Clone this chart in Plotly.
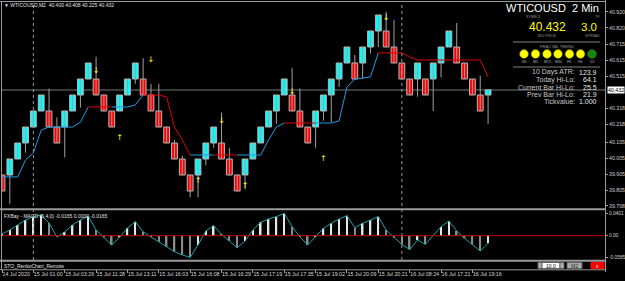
import plotly.graph_objects as go

# ---------------- data ----------------
brick_open = [39.9, 39.9, 40.0, 40.1, 40.2, 40.3, 40.3, 40.2, 40.2, 40.3,
              40.4, 40.5, 40.5, 40.4, 40.3, 40.3, 40.4, 40.5, 40.5, 40.4,
              40.3, 40.2, 40.1, 40.0, 39.9, 39.9, 40.0, 40.1, 40.1, 40.0,
              39.9, 39.9, 40.0, 40.1, 40.2, 40.3, 40.4, 40.4, 40.3, 40.2,
              40.2, 40.3, 40.4, 40.5, 40.6, 40.6, 40.6, 40.7, 40.8, 40.8,
              40.7, 40.6, 40.5, 40.5, 40.5, 40.5, 40.6, 40.7, 40.7, 40.6,
              40.5, 40.4, 40.4]
brick_close = [39.8, 40.0, 40.1, 40.2, 40.3, 40.4, 40.2, 40.1, 40.3, 40.4,
               40.5, 40.6, 40.4, 40.3, 40.2, 40.4, 40.5, 40.6, 40.4, 40.3,
               40.2, 40.1, 40.0, 39.9, 39.8, 40.0, 40.1, 40.2, 40.0, 39.9,
               39.8, 40.0, 40.1, 40.2, 40.3, 40.4, 40.5, 40.3, 40.2, 40.1,
               40.3, 40.4, 40.5, 40.6, 40.7, 40.5, 40.7, 40.8, 40.9, 40.7,
               40.6, 40.5, 40.4, 40.6, 40.4, 40.6, 40.7, 40.8, 40.6, 40.5,
               40.4, 40.3, 40.432]
brick_high = [39.9, 40.0, 40.1, 40.2, 40.3, 40.4, 40.44, 40.26, 40.3, 40.4,
              40.5, 40.6, 40.64, 40.4, 40.3, 40.4, 40.5, 40.6, 40.63, 40.47,
              40.47, 40.2, 40.12, 40.02, 39.9, 40.0, 40.1, 40.2, 40.29, 40.07,
              39.9, 40.0, 40.1, 40.2, 40.3, 40.4, 40.5, 40.57, 40.44, 40.2,
              40.3, 40.4, 40.5, 40.6, 40.7, 40.65, 40.7, 40.8, 40.9, 40.92,
              40.87, 40.6, 40.5, 40.6, 40.5, 40.6, 40.7, 40.8, 40.85, 40.6,
              40.5, 40.52, 40.432]
brick_low = [39.8, 39.72, 40.0, 40.04, 40.2, 40.3, 40.2, 40.1, 40.01, 40.3,
             40.32, 40.5, 40.4, 40.3, 40.2, 40.3, 40.4, 40.47, 40.4, 40.3,
             40.2, 40.1, 40.0, 39.9, 39.76, 39.76, 39.96, 40.07, 40.0, 39.9,
             39.8, 39.81, 40.0, 40.1, 40.2, 40.22, 40.4, 40.3, 40.2, 40.1,
             40.07, 40.24, 40.23, 40.45, 40.6, 40.5, 40.5, 40.66, 40.7, 40.7,
             40.6, 40.5, 40.4, 40.39, 40.4, 40.3, 40.51, 40.7, 40.6, 40.5,
             40.4, 40.3, 40.22]
trail_stop = [39.888, 39.888, 39.888, 39.994, 40.038, 40.181, 40.2, 40.2, 40.2, 40.2,
              40.231, 40.325, 40.325, 40.325, 40.325, 40.325, 40.325, 40.338, 40.4, 40.4,
              40.4, 40.388, 40.2, 40.119, 40.025, 40.025, 40.025, 40.025, 40.025, 40.025,
              40.025, 40.025, 40.025, 40.025, 40.119, 40.2, 40.225, 40.225, 40.225, 40.225,
              40.225, 40.225, 40.225, 40.238, 40.45, 40.5, 40.506, 40.513, 40.663, 40.663,
              40.663, 40.663, 40.638, 40.619, 40.619, 40.619, 40.619, 40.619, 40.619, 40.619,
              40.619, 40.619, 40.513]
trail_dir = (['U'] * 12 + ['D'] * 3 + ['U'] * 4 + ['D'] * 6 + ['U'] * 3 + ['D'] * 3 +
             ['U'] * 6 + ['D'] * 4 + ['U'] * 8 + ['D'] * 14)
fractal_up_idx = [12, 19, 28, 37, 49]
fractal_up_price = [40.55, 40.62, 40.24, 40.42, 40.88]
fractal_dn_idx = [15, 25, 31, 41]
fractal_dn_price = [40.13, 39.86, 39.83, 40.0]
macd_values = [0.0030, 0.0102, 0.0192, 0.0281, 0.0340, 0.0371, 0.0227, -0.0023, 0.0066, 0.0192,
               0.0281, 0.0353, 0.0102, -0.0029, -0.0166, -0.0029, 0.0138, 0.0251, 0.0072, -0.0023,
               -0.0107, -0.0197, -0.0286, -0.0345, -0.0387, -0.0166, 0.0084, 0.0179, 0.0025, -0.0095,
               -0.0215, -0.0095, 0.0102, 0.0240, 0.0299, 0.0340, 0.0401, 0.0161, -0.0018, -0.0166,
               -0.0018, 0.0132, 0.0222, 0.0299, 0.0358, 0.0143, 0.0222, 0.0281, 0.0340, 0.0102,
               -0.0036, -0.0158, -0.0247, -0.0077, -0.0154, 0.0000, 0.0161, 0.0263, 0.0084, -0.0047,
               -0.0154, -0.0274, -0.0136]
macd_tick_vals = [0.0401, 0.0, -0.0387]
macd_tick_text = ['0.0401', '0.00', '-0.0585']
price_ticks = [40.920, 40.820, 40.715, 40.615, 40.515, 40.318, 40.218,
               40.105, 40.005, 39.905, 39.805, 39.708]
x_tick_idx = [0, 4, 8, 12, 16, 20, 24, 28, 32, 36, 40, 44, 48, 52, 56, 60]
x_tick_labels = ['14 Jul 2020', '15 Jul 01:00', '15 Jul 03:26', '15 Jul 11:28', '15 Jul 13:11',
                 '15 Jul 16:03', '15 Jul 16:08', '15 Jul 16:29', '15 Jul 17:19', '15 Jul 17:35',
                 '15 Jul 19:02', '15 Jul 20:09', '15 Jul 20:21', '16 Jul 08:24', '16 Jul 17:21',
                 '16 Jul 19:16']
day_sep_idx = [4, 51]
bid_price = 40.432
spread = '3.0'
symbol = 'WTICOUSD'
timeframe = '2 Min'
header_text = '\u25bc WTICOUSD,M2  40.400 40.408 40.225 40.432'
macd_header = 'FXBay - MACD (5,4,0) -0.0165 0.0000 -0.0165'
sto_header = 'STO_RenkoChart_Remote'
fractal_tfs = ['M1', 'M5', 'M15', 'M30', 'H1', 'H4', 'D1']
fractal_colors = ['#FFFF00'] * 6 + ['#118811']
stats_labels = ['10 Days ATR:', 'Today Hi-Lo:', 'Current Bar Hi-Lo:', 'Prev Bar Hi-Lo:', 'Tickvalue:']
stats_values = ['123.9', '64.1', '25.5', '21.9', '1.000']

# ---------------- geometry helpers ----------------
W, H = 625, 281
def PX(x): return x / W
def PY(y): return 1 - y / H

n = len(brick_open)
idx = list(range(n))
XMAX = 603 / 7.84
FONT = 'Liberation Sans, Arial, sans-serif'

fig = go.Figure()

# wicks
wx, wy = [], []
for i in idx:
    wx += [i, i, None]
    wy += [brick_low[i], brick_high[i], None]
fig.add_trace(go.Scatter(x=wx, y=wy, mode='lines', line=dict(color='#a0a0a0', width=1),
                         xaxis='x', yaxis='y', hoverinfo='skip'))

# bricks
colors = ['#00FFFF' if c > o else '#FF0000' for o, c in zip(brick_open, brick_close)]
fig.add_trace(go.Bar(x=idx, y=[abs(c - o) for o, c in zip(brick_open, brick_close)],
                     base=[min(o, c) for o, c in zip(brick_open, brick_close)],
                     width=0.74, marker=dict(color=colors, line=dict(color='#b8b8b8', width=1)),
                     xaxis='x', yaxis='y'))

# trailing line
for d, col in (('U', '#1E9BE8'), ('D', '#E00000')):
    tx, ty = [], []
    for i in range(1, n):
        if trail_dir[i] == d:
            tx += [i - 1, i, None]
            ty += [trail_stop[i - 1], trail_stop[i], None]
    fig.add_trace(go.Scatter(x=tx, y=ty, mode='lines', line=dict(color=col, width=1),
                             xaxis='x', yaxis='y', hoverinfo='skip'))

# fractals
fig.add_trace(go.Scatter(x=fractal_up_idx, y=fractal_up_price, mode='text', text=['\u2193'] * len(fractal_up_idx),
                         textfont=dict(color='#FFFF00', size=8, family='DejaVu Sans'), xaxis='x', yaxis='y'))
fig.add_trace(go.Scatter(x=fractal_dn_idx, y=fractal_dn_price, mode='text', text=['\u2191'] * len(fractal_dn_idx),
                         textfont=dict(color='#FFFF00', size=8, family='DejaVu Sans'), xaxis='x', yaxis='y'))

# MACD
hcol = ['#e6e6e6' if (i == 0 or macd_values[i] >= macd_values[i - 1]) else '#8a8a8a' for i in idx]
fig.add_trace(go.Bar(x=idx, y=macd_values, width=0.2, marker=dict(color=hcol, line=dict(width=0)),
                     xaxis='x', yaxis='y2'))
fig.add_trace(go.Scatter(x=idx, y=macd_values, mode='lines', line=dict(color='#1aa3a8', width=1),
                         xaxis='x', yaxis='y2', hoverinfo='skip'))
# third window placeholder
fig.add_trace(go.Scatter(x=[0], y=[0.5], mode='markers', marker=dict(opacity=0),
                         xaxis='x', yaxis='y3', hoverinfo='skip'))

shapes = []
grey = '#9a9a9a'
shapes.append(dict(type='line', xref='paper', yref='paper', x0=PX(0), x1=PX(605), y0=PY(1.5), y1=PY(1.5),
                   line=dict(color=grey, width=1)))
shapes.append(dict(type='line', xref='paper', yref='paper', x0=PX(1.5), x1=PX(1.5), y0=PY(1.5), y1=PY(270),
                   line=dict(color=grey, width=1)))
shapes.append(dict(type='line', xref='paper', yref='paper', x0=PX(605.5), x1=PX(605.5), y0=PY(0), y1=PY(272),
                   line=dict(color=grey, width=1)))
for yy, wd in ((209.3, 2), (260.7, 2), (269.8, 1)):
    shapes.append(dict(type='line', xref='paper', yref='paper', x0=PX(0), x1=PX(605), y0=PY(yy), y1=PY(yy),
                       line=dict(color=grey, width=wd)))
for d in day_sep_idx:
    shapes.append(dict(type='line', xref='x', yref='paper', x0=d, x1=d, y0=PY(260), y1=PY(3),
                       line=dict(color='#9a9a9a', width=1, dash='dot')))
shapes.append(dict(type='line', xref='paper', yref='y', x0=PX(2), x1=PX(605), y0=bid_price, y1=bid_price,
                   line=dict(color='#4a5252', width=1.5), layer='below'))
shapes.append(dict(type='line', xref='paper', yref='y2', x0=PX(2), x1=PX(605), y0=0, y1=0,
                   line=dict(color='#c00000', width=1)))
for yy in (42, 67):
    shapes.append(dict(type='line', xref='paper', yref='paper', x0=PX(513), x1=PX(600), y0=PY(yy), y1=PY(yy),
                       line=dict(color='#808080', width=1)))
cxs = [524, 535.5, 547, 558, 569.5, 580.5, 592]
for cx, col in zip(cxs, fractal_colors):
    r = 4.4
    shapes.append(dict(type='circle', xref='paper', yref='paper', x0=PX(cx - r), x1=PX(cx + r),
                       y0=PY(54 + r), y1=PY(54 - r), fillcolor=col, line=dict(color='#6a6a00', width=0.5)))
def rect(x0, x1, y0, y1, fill, lc='#606060'):
    shapes.append(dict(type='rect', xref='paper', yref='paper', x0=PX(x0), x1=PX(x1), y0=PY(y1), y1=PY(y0),
                       fillcolor=fill, line=dict(color=lc, width=1)))
rect(538, 542, 262.5, 268.5, '#b0b0b0')
rect(542, 560, 262.5, 268.5, '#ffffff')
rect(560, 564, 262.5, 268.5, '#b0b0b0')
rect(567, 582, 262.5, 268.5, '#a8a8a8')
rect(591, 604, 262.5, 268.5, '#ff0000', '#ff0000')

ann = []
def text(x, y, s, size, color, anchor='left', family=FONT, **kw):
    ann.append(dict(x=PX(x), y=PY(y), xref='paper', yref='paper', text=s, showarrow=False,
                    xanchor=anchor, yanchor='middle', borderpad=0,
                    font=dict(size=size, color=color, family=family), **kw))

text(3, 5, header_text, 5, '#e0e0e0')
text(3, 215.5, macd_header, 5, '#e0e0e0')
text(3, 265.5, sto_header, 5, '#e0e0e0')
text(505, 8, symbol, 11, '#ffffff')
text(600, 8, timeframe, 11, '#ffffff', anchor='right')
text(533, 16.8, 'SYMBOL', 3.6, '#909090', anchor='center')
text(597, 16.8, 'TF', 3.6, '#909090', anchor='center')
text(547.5, 27.3, f'{bid_price:.3f}', 12, '#ffff00', anchor='center')
text(598, 27.3, spread, 11.5, '#ffff00', anchor='right')
text(547.5, 36.5, 'BID PRICE', 3.6, '#909090', anchor='center')
text(592, 36.5, 'SPREAD', 3.6, '#909090', anchor='center')
text(557, 46.5, 'FRACTAL TREND', 4.2, '#909090', anchor='center')
for cx, tf in zip(cxs, fractal_tfs):
    text(cx, 62.3, tf, 3.6, '#b0b0b0', anchor='center')
for k, (lab, val) in enumerate(zip(stats_labels, stats_values)):
    yy = 72.3 + k * 7.4
    text(576, yy, lab, 7, '#c8c8c8', anchor='right')
    text(598, yy, val, 7, '#e8e8e8', anchor='right')
ann.append(dict(x=PX(606.5), y=bid_price, xref='paper', yref='y', text=f'{bid_price:.3f}', showarrow=False,
                xanchor='left', yanchor='middle', bgcolor='#ffffff', borderpad=0,
                font=dict(size=5.3, color='#000000', family=FONT)))
text(551, 265.5, '10.0', 5, '#000000', anchor='center')
text(574.5, 265.5, 'M2', 5, '#303030', anchor='center')
text(597.5, 265.5, 'x', 5, '#ffffff', anchor='center')

axis_font = dict(size=5.2, color='#d0d0d0', family=FONT)
fig.update_layout(
    template='none', width=W, height=H, margin=dict(l=0, r=0, t=0, b=0),
    paper_bgcolor='#000000', plot_bgcolor='#000000', showlegend=False, barmode='overlay',
    font=dict(family=FONT, color='#d0d0d0'),
    xaxis=dict(domain=[PX(2), PX(605)], range=[0, XMAX], anchor='y3', showgrid=False, zeroline=False,
               showline=False, tickmode='array', tickvals=x_tick_idx, ticktext=x_tick_labels,
               ticks='outside', ticklen=3, tickcolor='#a0a0a0', tickangle=0,
               tickfont=dict(size=5.3, color='#d8d8d8', family=FONT),
               ticklabelposition='outside right', automargin=False),
    yaxis=dict(domain=[PY(209), PY(3)], range=[39.6875, 40.975], anchor='x', side='right',
               showgrid=False, zeroline=False, showline=False, tickmode='array', tickvals=price_ticks,
               ticktext=[f'{v:.3f}' for v in price_ticks], ticks='outside', ticklen=2, tickcolor='#a0a0a0',
               tickfont=axis_font, automargin=False),
    yaxis2=dict(domain=[PY(260), PY(211)], range=[-(260 - 235.7) * 0.00179, (235.7 - 211) * 0.00179],
                anchor='x', side='right', showgrid=False, zeroline=False, showline=False,
                tickmode='array', tickvals=macd_tick_vals, ticktext=macd_tick_text, ticks='outside',
                ticklen=2, tickcolor='#a0a0a0', tickfont=dict(size=4.8, color='#d0d0d0', family=FONT),
                automargin=False),
    yaxis3=dict(domain=[PY(269), PY(262)], range=[0, 1], anchor='x', side='right', showgrid=False,
                zeroline=False, showline=False, showticklabels=False, ticks='', automargin=False),
    shapes=shapes, annotations=ann,
)
fig.write_html('out.html')
